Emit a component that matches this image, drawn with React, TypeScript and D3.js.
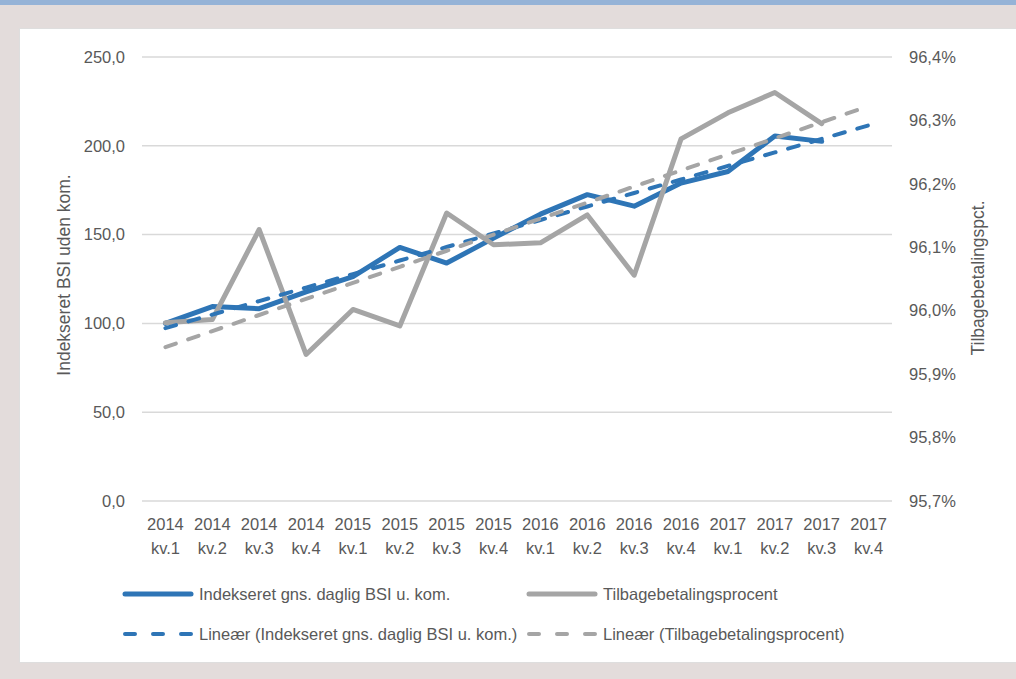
import * as d3 from "d3";

const quarters = [
  "2014 kv.1", "2014 kv.2", "2014 kv.3", "2014 kv.4",
  "2015 kv.1", "2015 kv.2", "2015 kv.3", "2015 kv.4",
  "2016 kv.1", "2016 kv.2", "2016 kv.3", "2016 kv.4",
  "2017 kv.1", "2017 kv.2", "2017 kv.3", "2017 kv.4",
];

// indekseret gns. daglig BSI u. kom. (left axis)
const bsi = [100.0, 109.5, 108.3, 117.8, 126.3, 142.8, 134.0, 148.0, 161.5, 172.5, 166.0, 179.0, 185.5, 205.5, 202.5];

// tilbagebetalingsprocent (right axis, %)
const pct = [95.981, 95.986, 96.128, 95.931, 96.002, 95.976, 96.154, 96.104, 96.107, 96.151, 96.056, 96.271, 96.312, 96.344, 96.295];

const leftTicks = [0, 50, 100, 150, 200, 250];
const rightTicks = [95.7, 95.8, 95.9, 96.0, 96.1, 96.2, 96.3, 96.4];

const W = 1016;
const H = 679;
const FONT = "'Liberation Sans', Arial, sans-serif";
const TXT = "#595959";
const BLUE = "#2e75b6";
const GRAY = "#a5a5a5";
const FS = 16.5;

// least squares fit, extended over every quarter like an Excel trendline
function trend(vals: number[]) {
  const xs = vals.map((_, i) => i);
  const mx = d3.mean(xs)!;
  const my = d3.mean(vals)!;
  const slope = d3.sum(xs, (x, i) => (x - mx) * (vals[i] - my)) / d3.sum(xs, (x) => (x - mx) ** 2);
  return quarters.map((_, i) => my + slope * (i - mx));
}

export default function App() {
  const x = d3.scaleBand().domain(quarters).range([142, 892]);
  const cx = (i: number) => x(quarters[i])! + x.bandwidth() / 2;
  const yL = d3.scaleLinear().domain([0, 250]).range([501, 57]);
  const yR = d3.scaleLinear().domain([95.7, 96.4]).range([501, 57]);

  const lineL = d3.line<number>().x((_, i) => cx(i)).y((d) => yL(d));
  const lineR = d3.line<number>().x((_, i) => cx(i)).y((d) => yR(d));

  const fmt = (v: number) => v.toFixed(1).replace(".", ",");

  const legend = [
    { label: "Indekseret gns. daglig BSI u. kom.", color: BLUE, dash: false, lx: 123, ly: 594 },
    { label: "Tilbagebetalingsprocent", color: GRAY, dash: false, lx: 527, ly: 594 },
    { label: "Lineær (Indekseret gns. daglig BSI u. kom.)", color: BLUE, dash: true, lx: 123, ly: 634 },
    { label: "Lineær (Tilbagebetalingsprocent)", color: GRAY, dash: true, lx: 527, ly: 634 },
  ];

  return (
    <svg width={W} height={H} style={{ position: "absolute", left: 0, top: 0 }} fontFamily={FONT}>
      <rect x={0} y={0} width={W} height={H} fill="#e3dcdb" />
      <rect x={0} y={0} width={W} height={5} fill="#95b3d7" />
      <rect x={19.5} y={28.5} width={W} height={634} fill="#fff" stroke="#dedede" strokeWidth={1} />

      {leftTicks.map((t) => (
        <g key={t}>
          <line x1={142} x2={892} y1={yL(t)} y2={yL(t)} stroke="#d9d9d9" strokeWidth={1.5} />
          <text x={125} y={yL(t)} dy="0.35em" textAnchor="end" fontSize={FS} fill={TXT}>
            {fmt(t)}
          </text>
        </g>
      ))}
      {rightTicks.map((t) => (
        <text key={t} x={909} y={yR(t)} dy="0.35em" fontSize={FS} fill={TXT}>
          {fmt(t)}%
        </text>
      ))}

      {quarters.map((q, i) => {
        const [yr, kv] = q.split(" ");
        return (
          <text key={q} x={cx(i)} textAnchor="middle" fontSize={FS} fill={TXT}>
            <tspan x={cx(i)} y={530}>{yr}</tspan>
            <tspan x={cx(i)} y={554}>{kv}</tspan>
          </text>
        );
      })}

      <text transform="translate(70,275) rotate(-90)" textAnchor="middle" fontSize={17.5} fill={TXT}>
        Indekseret BSI uden kom.
      </text>
      <text transform="translate(984,278) rotate(-90)" textAnchor="middle" fontSize={17.5} fill={TXT}>
        Tilbagebetalingspct.
      </text>

      <path d={lineL(bsi)!} fill="none" stroke={BLUE} strokeWidth={5} strokeLinejoin="round" strokeLinecap="round" />
      <path d={lineR(pct)!} fill="none" stroke={GRAY} strokeWidth={5} strokeLinejoin="round" strokeLinecap="round" />
      <path d={lineL(trend(bsi))!} fill="none" stroke={BLUE} strokeWidth={4} strokeDasharray="11 13" strokeLinecap="round" />
      <path d={lineR(trend(pct))!} fill="none" stroke={GRAY} strokeWidth={4} strokeDasharray="11 13" strokeLinecap="round" />

      {legend.map((l) => (
        <g key={l.label}>
          <line
            x1={l.lx + 2}
            x2={l.lx + 68}
            y1={l.ly}
            y2={l.ly}
            stroke={l.color}
            strokeWidth={l.dash ? 4 : 5}
            strokeLinecap="round"
            strokeDasharray={l.dash ? "10 18" : undefined}
          />
          <text x={l.lx + 76} y={l.ly} dy="0.35em" fontSize={FS} fill={TXT}>
            {l.label}
          </text>
        </g>
      ))}
    </svg>
  );
}
